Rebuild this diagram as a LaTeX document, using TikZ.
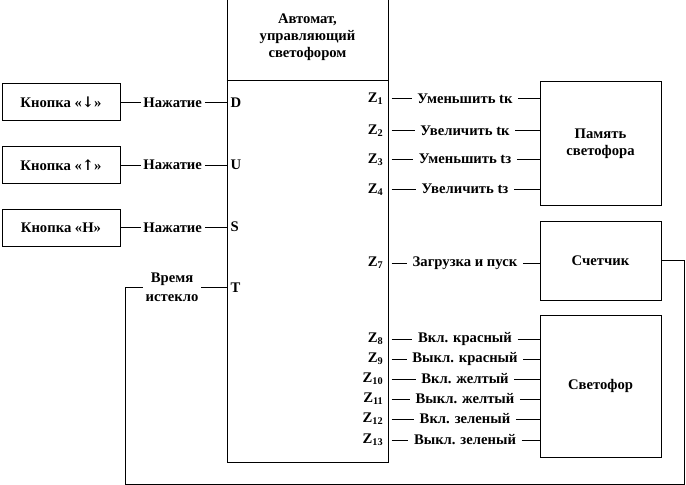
\documentclass[tikz,border=0pt]{standalone}
\usepackage{fontspec}
\setmainfont{Liberation Serif}[BoldFont={Liberation Serif Bold}]
\newfontfamily\arrowfont{DejaVu Serif}
\usetikzlibrary{positioning}

\begin{document}
\begin{tikzpicture}[
    x=0.75pt,y=-0.75pt,
    every node/.style={font=\fontsize{11}{12.75}\selectfont\bfseries},
    box/.style={draw,line width=0.75pt,align=center,inner sep=0pt},
    btnbox/.style={box,minimum width=88.5pt,minimum height=27.75pt},
    rbox/.style={box,minimum width=90.75pt},
    sig/.style={inner sep=4pt},
    press/.style={inner sep=2pt},
    zout/.style={anchor=east,inner sep=1pt},
    pin/.style={anchor=west,inner sep=1pt},
    wire/.style={line width=0.75pt}
  ]
    \useasboundingbox (0,0) rectangle (686,485);
    \node[box,minimum width=120.75pt,minimum height=346.5pt] (fsm) at (307.5,231) {};
    \node[align=center] (title) at (307.5,37) {Автомат,\\управляющий\\светофором};
    \coordinate (sep) at (0,81);
    \draw[wire] (fsm.west |- sep) -- (fsm.east |- sep);

    \node[btnbox] (btn1) at (61,102.5) {Кнопка «{\arrowfont ↓}»};
    \node[btnbox,below=18.5pt of btn1] (btn2) {Кнопка «{\arrowfont ↑}»};
    \node[btnbox,below=18.5pt of btn2] (btn3) {Кнопка «Н»};
    \node[press,right=15pt of btn1] (p1) {Нажатие};
    \node[press,right=15pt of btn2] (p2) {Нажатие};
    \node[press,right=15pt of btn3] (p3) {Нажатие};
    \node[press,align=center,font=\fontsize{11}{14.25}\selectfont\bfseries] (tm) at (172,287) {Время\\истекло};
    \node[pin] (d) at (229,103) {D};
    \node[pin] (u) at (229,165) {U};
    \node[pin] (s) at (229,227) {S};
    \node[pin] (t) at (229,288) {T};
    \draw[wire] (btn1) -- (p1) -- (fsm.west |- p1);
    \draw[wire] (btn2) -- (p2) -- (fsm.west |- p2);
    \draw[wire] (btn3) -- (p3) -- (fsm.west |- p3);
    \draw[wire] (tm.east) -- (fsm.west |- tm);

    \node[rbox,minimum height=92.25pt] (mem) at (600.5,143.5) {Память\\светофора};
    \node[rbox,minimum height=59.25pt] (cnt) at (600.5,260.5) {Счетчик};
    \node[rbox,minimum height=106.5pt] (lamp) at (600.5,386) {Светофор};

    \node[zout] (z1) at (385,99) {Z\textsubscript{1}};
    \node[zout] (z2) at (385,131) {Z\textsubscript{2}};
    \node[zout] (z3) at (385,160) {Z\textsubscript{3}};
    \node[zout] (z4) at (385,190) {Z\textsubscript{4}};
    \node[zout] (z7) at (385,263) {Z\textsubscript{7}};
    \node[zout] (z8) at (385,339) {Z\textsubscript{8}};
    \node[zout] (z9) at (385,359) {Z\textsubscript{9}};
    \node[zout] (z10) at (385,379) {Z\textsubscript{10}};
    \node[zout] (z11) at (385,399) {Z\textsubscript{11}};
    \node[zout] (z12) at (385,419) {Z\textsubscript{12}};
    \node[zout] (z13) at (385,440) {Z\textsubscript{13}};

    \node[sig] (s1) at (465,99) {Уменьшить tк};
    \node[sig] (s2) at (465,131) {Увеличить tк};
    \node[sig] (s3) at (465,159) {Уменьшить tз};
    \node[sig] (s4) at (465,189) {Увеличить tз};
    \node[sig] (s7) at (465,263) {Загрузка и пуск};
    \node[sig] (s8) at (465,339) {Вкл. красный};
    \node[sig] (s9) at (465,359) {Выкл. красный};
    \node[sig] (s10) at (465,379) {Вкл. желтый};
    \node[sig] (s11) at (465,399) {Выкл. желтый};
    \node[sig] (s12) at (465,419) {Вкл. зеленый};
    \node[sig] (s13) at (465,440) {Выкл. зеленый};
    \draw[wire] ([xshift=2.25pt]fsm.east |- s1) -- (s1.west) (s1.east) -- (mem.west |- s1);
    \draw[wire] ([xshift=2.25pt]fsm.east |- s2) -- (s2.west) (s2.east) -- (mem.west |- s2);
    \draw[wire] ([xshift=2.25pt]fsm.east |- s3) -- (s3.west) (s3.east) -- (mem.west |- s3);
    \draw[wire] ([xshift=2.25pt]fsm.east |- s4) -- (s4.west) (s4.east) -- (mem.west |- s4);
    \draw[wire] ([xshift=2.25pt]fsm.east |- s7) -- (s7.west) (s7.east) -- (cnt.west |- s7);
    \draw[wire] ([xshift=2.25pt]fsm.east |- s8) -- (s8.west) (s8.east) -- (lamp.west |- s8);
    \draw[wire] ([xshift=2.25pt]fsm.east |- s9) -- (s9.west) (s9.east) -- (lamp.west |- s9);
    \draw[wire] ([xshift=2.25pt]fsm.east |- s10) -- (s10.west) (s10.east) -- (lamp.west |- s10);
    \draw[wire] ([xshift=2.25pt]fsm.east |- s11) -- (s11.west) (s11.east) -- (lamp.west |- s11);
    \draw[wire] ([xshift=2.25pt]fsm.east |- s12) -- (s12.west) (s12.east) -- (lamp.west |- s12);
    \draw[wire] ([xshift=2.25pt]fsm.east |- s13) -- (s13.west) (s13.east) -- (lamp.west |- s13);

    \coordinate (fbr) at (684,484);
    \coordinate (fbl) at (125,484);
    \draw[wire] (cnt.east) -| (fbr) -- (fbl) |- (tm.west);
  \end{tikzpicture}
\end{document}
